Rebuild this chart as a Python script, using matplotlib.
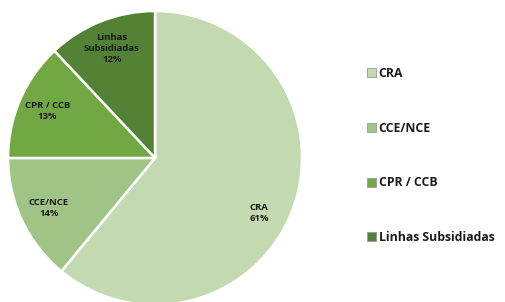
import matplotlib.pyplot as plt
import numpy as np

labels = ['CRA', 'CCE/NCE', 'CPR / CCB', 'Linhas Subsidiadas']
pie_labels = ['CRA', 'CCE/NCE', 'CPR / CCB', 'Linhas\nSubsidiadas']
shares = [61, 14, 13, 12]
colors = ['#c3dab0', '#9fc486', '#72a844', '#548235']

plt.rcParams['font.family'] = ['Open Sans', 'DejaVu Sans']

fig = plt.figure(figsize=(5.05, 3.02), dpi=100)
ax = fig.add_axes([0.016, -0.01, 0.582, 0.974])

wedges, texts = ax.pie(shares, colors=colors, startangle=90, counterclock=False,
                       wedgeprops=dict(edgecolor='white', linewidth=1.8))
for w in wedges:
    w.set_clip_on(False)

# labels inside the slices (the big slice's label sits a bit lower, like Excel does)
for i, (w, name, val) in enumerate(zip(wedges, pie_labels, shares)):
    mid = (w.theta1 + w.theta2) / 2
    if i == 0:
        mid -= 8
    ang = np.deg2rad(mid)
    r = 0.8
    ax.text(r * np.cos(ang), r * np.sin(ang), f'{name}\n{val}%', ha='center', va='center',
            fontsize=6.8, fontweight='bold', color='#1a1a1a', linespacing=1.3)
ax.set_xlim(-1, 1)
ax.set_ylim(-1, 1)
ax.set_aspect('equal')

leg = fig.legend(wedges, labels, loc='center left', bbox_to_anchor=(0.705, 0.485),
                 frameon=False, fontsize=8.8, labelspacing=3.4,
                 handlelength=0.75, handleheight=0.75, handletextpad=0.2)
for t in leg.get_texts():
    t.set_fontweight('bold')
    t.set_color('#1a1a1a')
for h in leg.legend_handles:
    h.set_edgecolor('#999999')
    h.set_linewidth(0.6)

fig.savefig('out.png', dpi=100, facecolor='white')
